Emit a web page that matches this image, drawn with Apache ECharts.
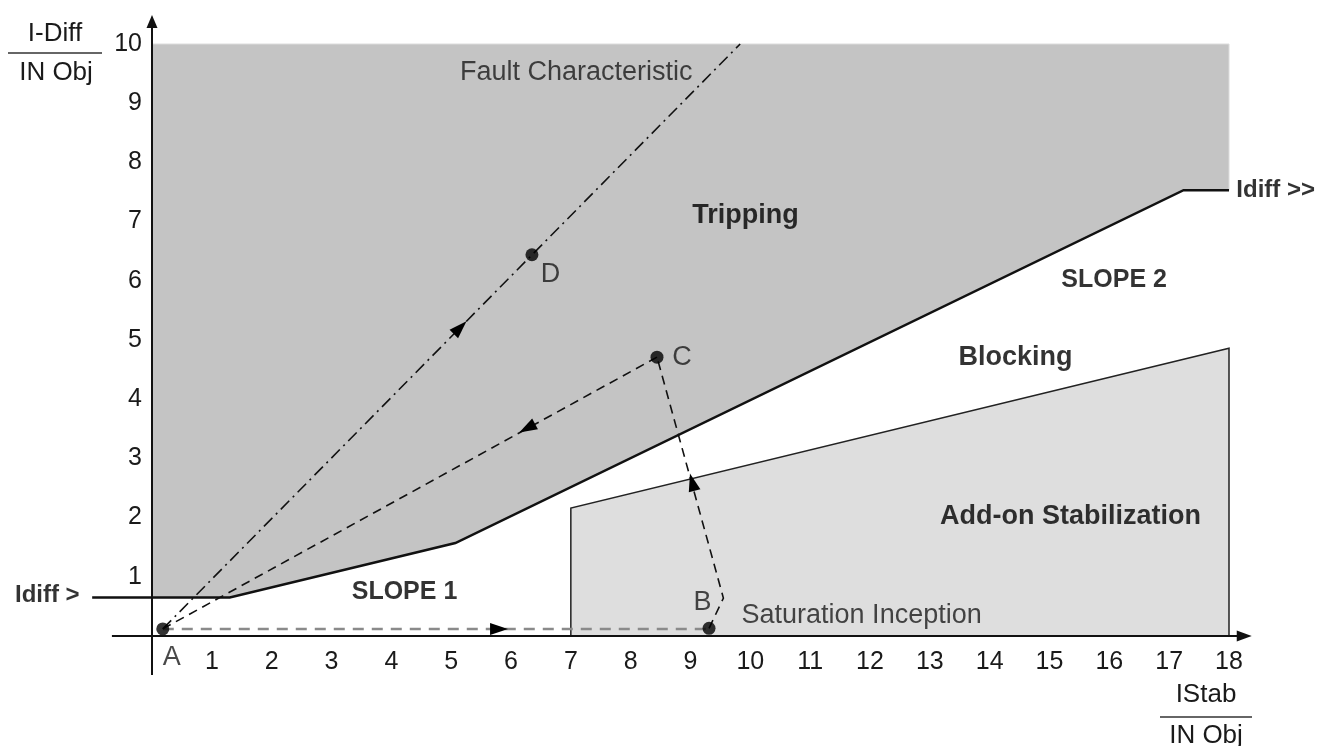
<!DOCTYPE html>
<html>
<head>
<meta charset="utf-8">
<script src="https://cdn.jsdelivr.net/npm/echarts@6/dist/echarts.min.js"></script>
<style>
html,body{margin:0;padding:0;background:#fff;}
#chart{width:1331px;height:746px;}
</style>
</head>
<body>
<div id="chart"></div>
<script>
// ---------------- data ----------------
const xTickLabels = ['1','2','3','4','5','6','7','8','9','10','11','12','13','14','15','16','17','18'];
const yTickLabels = ['1','2','3','4','5','6','7','8','9','10'];

// tripping characteristic (Idiff>, slope 1, slope 2, Idiff>>)
const tripCharacteristic = [[-1, 0.65], [1.3, 0.65], [5.07, 1.57], [17.24, 7.53], [18, 7.53]];
// tripping area (above characteristic)
const trippingRegion = [[0, 10], [18, 10], [18, 7.53], [17.24, 7.53], [5.07, 1.57], [1.3, 0.65], [0, 0.65]];
// add-on stabilization area
const addOnRegion = [[7, 0], [7, 2.16], [18, 4.86], [18, 0]];

// operating points
const pointNames = ['A', 'B', 'C', 'D'];
const pointX = [0.18, 9.31, 8.44, 6.35];
const pointY = [0.12, 0.13, 4.71, 6.44];

// trajectories
const pathAB = [[0.18, 0.12], [9.31, 0.12]];
const pathBC = [[9.31, 0.13], [9.55, 0.64], [8.44, 4.71]];
const pathCA = [[8.44, 4.71], [0.18, 0.12]];
const faultLine = [[0.18, 0.12], [9.83, 10]];

// arrow heads on trajectories: [tip, segment start]
const arrowAB = [[5.80, 0.12], [0.18, 0.12]];
const arrowBC = [[9.03, 2.60], [9.55, 0.64]];
const arrowCA = [[6.27, 3.51], [8.44, 4.71]];
const arrowFault = [[5.15, 5.21], [0.18, 0.12]];

// axis lines (drawn beyond the plotted range, ending in arrows at the tip)
const xAxisLine = [[-0.67, 0], [18.38, 0]];
const yAxisLine = [[0, -0.66], [0, 10.49]];

// annotations
const regularTexts = ['Fault Characteristic', 'D', 'C', 'B', 'A', 'Saturation Inception'];
const regularX = [7.09, 6.66, 8.86, 9.20, 0.33, 11.86];
const regularY = [9.51, 6.10, 4.70, 0.57, -0.37, 0.34];
const boldTexts = ['Tripping', 'Blocking', 'Add-on Stabilization'];
const boldX = [9.92, 14.43, 15.35];
const boldY = [7.11, 4.71, 2.01];
const slopeTexts = ['SLOPE 1', 'SLOPE 2'];
const slopeX = [4.22, 16.08];
const slopeY = [0.74, 6.01];
const thresholdTexts = ['Idiff >', 'Idiff >>'];
const thresholdX = [-1.75, 18.78];
const thresholdY = [0.69, 7.53];

// ---------------- chart ----------------
const FONT = '"Liberation Sans", Arial, sans-serif';
const chart = echarts.init(document.getElementById('chart'), null, {renderer: 'canvas'});

function arrowMark(a) {
  const tip = a[0], from = a[1];
  const dx = tip[0] - from[0], dy = tip[1] - from[1];
  const len = Math.sqrt(dx * dx + dy * dy);
  const s = [tip[0] - dx / len * 0.05, tip[1] - dy / len * 0.05];
  return [{coord: s, symbol: 'none'}, {coord: tip, symbol: 'triangle', symbolSize: [12, 18]}];
}

function polySeries(points, style, z) {
  return {
    type: 'custom', z: z, silent: true, data: [0], clip: false,
    renderItem: function (params, api) {
      return {type: 'polygon', shape: {points: points.map(function (p) { return api.coord(p); })}, style: style};
    }
  };
}

// polyline drawn in data space, optional arrow head at the last point
function polylineSeries(points, color, width, arrowSize, z) {
  return {
    type: 'custom', z: z, silent: true, data: [0], clip: false,
    renderItem: function (params, api) {
      const px = points.map(function (p) { return api.coord(p); });
      const children = [];
      let linePts = px.slice();
      if (arrowSize) {
        const tip = px[px.length - 1], prev = px[px.length - 2];
        const dx = tip[0] - prev[0], dy = tip[1] - prev[1];
        const l = Math.sqrt(dx * dx + dy * dy), ux = dx / l, uy = dy / l;
        const L = arrowSize[1], W = arrowSize[0] / 2;
        const bx = tip[0] - ux * L, by = tip[1] - uy * L;
        linePts[linePts.length - 1] = [bx + ux * 2, by + uy * 2];
        children.push({type: 'polygon', shape: {points: [tip, [bx - uy * W, by + ux * W], [bx + uy * W, by - ux * W]]}, style: {fill: color}});
      }
      children.unshift({type: 'polyline', shape: {points: linePts}, style: {stroke: color, lineWidth: width, fill: null, lineJoin: 'miter'}});
      return {type: 'group', children: children};
    }
  };
}

function pathSeries(points, color, width, dash, arrow, z) {
  return {
    type: 'line', z: z, silent: true, data: points, symbol: 'none', clip: false,
    lineStyle: {color: color, width: width, type: dash},
    markLine: {
      silent: true, symbol: 'none', animation: false,
      label: {show: false}, emphasis: {disabled: true},
      lineStyle: {color: '#000', width: 1.5, type: 'solid'},
      itemStyle: {color: '#000'},
      data: [arrowMark(arrow)]
    }
  };
}

function textSeries(names, xs, ys, bold, size, color, z) {
  return {
    type: 'scatter', z: z, silent: true, clip: false, symbolSize: 0,
    data: names.map(function (n, i) { return {name: n, value: [xs[i], ys[i]]}; }),
    itemStyle: {color: 'rgba(0,0,0,0)'},
    label: {
      show: true, position: 'inside', formatter: '{b}',
      fontFamily: FONT, fontSize: size, fontWeight: bold ? 'bold' : 'normal',
      color: color, align: 'center', verticalAlign: 'middle'
    }
  };
}

function tickFormatter(labels) {
  return function (v) {
    const i = Math.round(v);
    return (Math.abs(v - i) < 1e-6 && i >= 1 && i <= labels.length) ? labels[i - 1] : '';
  };
}

const option = {
  animation: false,
  backgroundColor: '#fff',
  grid: {left: 152, right: 102, top: 44, bottom: 110, containLabel: false, outerBoundsMode: 'none'},
  xAxis: {
    type: 'value', min: 0, max: 18, interval: 1,
    axisLine: {show: false}, axisTick: {show: false}, splitLine: {show: false},
    axisLabel: {
      show: true, margin: 14, fontFamily: FONT, fontSize: 25, color: '#1a1a1a',
      formatter: tickFormatter(xTickLabels)
    }
  },
  yAxis: {
    type: 'value', min: 0, max: 10, interval: 1,
    axisLine: {show: false}, axisTick: {show: false}, splitLine: {show: false},
    axisLabel: {
      show: true, margin: 10, fontFamily: FONT, fontSize: 25, color: '#1a1a1a',
      formatter: tickFormatter(yTickLabels)
    }
  },
  series: [
    polySeries(trippingRegion, {fill: '#c4c4c4', stroke: '#dcdcdc', lineWidth: 1}, 1),
    polySeries(addOnRegion, {fill: '#dedede', stroke: '#222', lineWidth: 1.5}, 2),
    polylineSeries(tripCharacteristic, '#111', 2.5, null, 3),
    pathSeries(pathAB, '#8a8a8a', 2.5, [11, 8], arrowAB, 4),
    pathSeries(pathBC, '#111', 1.6, [9, 6], arrowBC, 4),
    pathSeries(pathCA, '#111', 1.6, [9, 6], arrowCA, 4),
    pathSeries(faultLine, '#111', 1.6, [12, 5, 2, 5], arrowFault, 4),
    {
      type: 'scatter', z: 5, silent: true, symbolSize: 13, clip: false,
      itemStyle: {color: '#000'},
      data: pointNames.map(function (n, i) { return {name: n, value: [pointX[i], pointY[i]]}; })
    },
    textSeries(regularTexts, regularX, regularY, false, 27, '#1a1a1a', 6),
    textSeries(boldTexts, boldX, boldY, true, 27, '#000', 6),
    textSeries(slopeTexts, slopeX, slopeY, true, 25, '#000', 6),
    textSeries(thresholdTexts, thresholdX, thresholdY, true, 24, '#000', 6),
    polylineSeries(xAxisLine, '#111', 2, [11, 15], 7),
    polylineSeries(yAxisLine, '#111', 2, [11, 13], 7)
  ],
  graphic: [
    {type: 'text', style: {text: 'I-Diff', font: '26px ' + FONT, fill: '#1a1a1a', align: 'center', verticalAlign: 'middle'}, x: 55, y: 34},
    {type: 'line', shape: {x1: 8, y1: 53, x2: 102, y2: 53}, style: {stroke: '#333', lineWidth: 1.5}},
    {type: 'text', style: {text: 'IN Obj', font: '26px ' + FONT, fill: '#1a1a1a', align: 'center', verticalAlign: 'middle'}, x: 56, y: 73},
    {type: 'text', style: {text: 'IStab', font: '26px ' + FONT, fill: '#1a1a1a', align: 'center', verticalAlign: 'middle'}, x: 1206, y: 695},
    {type: 'line', shape: {x1: 1160, y1: 717, x2: 1252, y2: 717}, style: {stroke: '#333', lineWidth: 1.5}},
    {type: 'text', style: {text: 'IN Obj', font: '26px ' + FONT, fill: '#1a1a1a', align: 'center', verticalAlign: 'middle'}, x: 1206, y: 736}
  ]
};
chart.setOption(option);
</script>
</body>
</html>
